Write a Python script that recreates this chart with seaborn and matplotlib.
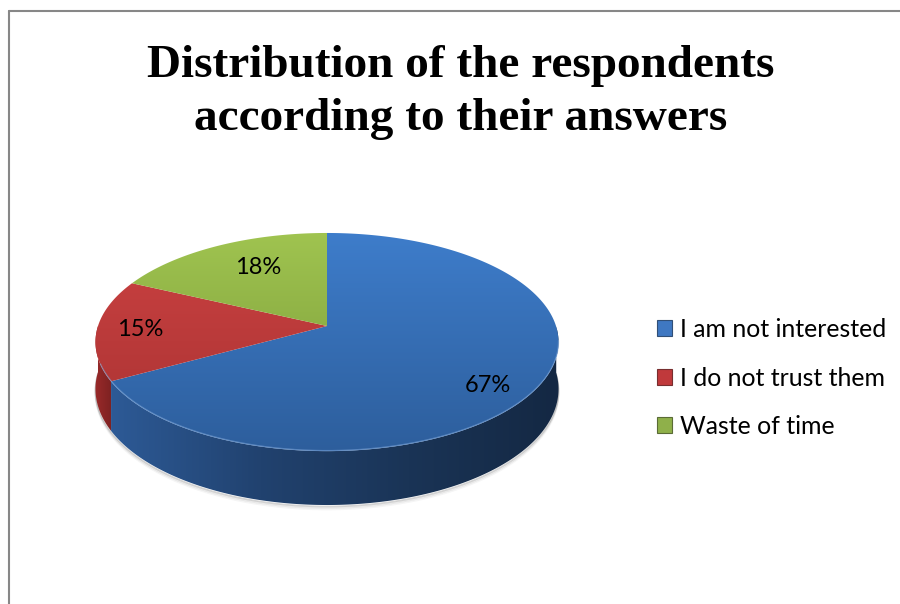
import numpy as np
import matplotlib
matplotlib.use("Agg")
import matplotlib.pyplot as plt
from matplotlib.patches import Polygon, Patch
from matplotlib.lines import Line2D
from matplotlib.colors import LinearSegmentedColormap
import seaborn as sns

# Survey answers
categories = ["I am not interested", "I do not trust them", "Waste of time"]
shares = [67, 15, 18]
pct_labels = ["67%", "15%", "18%"]

title = "Distribution of the respondents\naccording to their answers"

sns.set_theme(style="white")
plt.rcParams["font.family"] = ["Lato", "DejaVu Sans"]

# Per-slice styling: top surface (light -> dark), side wall (left -> right), legend swatch
top_grad = [("#3e7dcb", "#2d5e9c"), ("#cc4242", "#a83232"), ("#a0c450", "#779837")]
side_grad = [["#2d5a96", "#21426f", "#1a3456", "#142843"], ["#9a2a2a", "#7e2222"], ["#6f8c30", "#56702a"]]
swatch = sns.color_palette(["#3f78c2", "#c0393b", "#8fb04a"])

# Pie geometry in pixel space (perspective-tilted disc)
CX, CY, RX, RY, K, DEPTH = 327.0, 326.0, 229.0, 106.7, 0.147, 46.0


def project(theta_deg, r=1.0, h=0.0):
    t = np.radians(theta_deg)
    u, v = r * np.cos(t), r * np.sin(t)
    f = 1.0 / (1.0 + K * v)
    return CX + RX * u * f, CY - RY * v * f + DEPTH * h * f


fig = plt.figure(figsize=(9, 6.04), dpi=100)
fig.patch.set_facecolor("white")
ax = fig.add_axes([0, 0, 1, 1])
ax.set_xlim(0, 900)
ax.set_ylim(604, 0)
ax.axis("off")

total = float(sum(shares))
cum = np.concatenate([[0], np.cumsum(shares)]) / total
starts = 90 - 360 * cum[:-1]
ends = 90 - 360 * cum[1:]

# soft shadow under the front rim
th = np.linspace(180, 360, 300)
bx, by = project(th, 1.0, 1.0)
for off, a in [(1.5, 0.25), (3.0, 0.12), (4.5, 0.06)]:
    ax.plot(bx, by + off, color="#555555", alpha=a, lw=1.2, zorder=0.5)

# side walls (front half only)
for i in range(len(shares)):
    th = np.linspace(ends[i], starts[i], 500)
    th = th[np.sin(np.radians(th)) <= 1e-6]
    if len(th) < 2:
        continue
    tx, ty = project(th, 1.0, 0.0)
    bx, by = project(th[::-1], 1.0, 1.0)
    poly = Polygon(np.column_stack([np.r_[tx, bx], np.r_[ty, by]]), closed=True,
                   facecolor="none", edgecolor="none", zorder=1)
    ax.add_patch(poly)
    cmap = LinearSegmentedColormap.from_list(f"side{i}", side_grad[i])
    x0, x1 = min(tx.min(), bx.min()), max(tx.max(), bx.max())
    grad = np.linspace(0, 1, 256)[None, :]
    im = ax.imshow(grad, extent=(x0, x1, by.max() + 2, ty.min() - 2), origin="upper",
                   cmap=cmap, aspect="auto", zorder=1, interpolation="bilinear")
    im.set_clip_path(poly)

# top surfaces
ytop, ybot = project(90)[1], project(270)[1]
for i in range(len(shares)):
    th = np.linspace(ends[i], starts[i], 300)
    rx, ry = project(th)
    verts = np.column_stack([np.r_[CX, rx], np.r_[CY, ry]])
    poly = Polygon(verts, closed=True, facecolor="none", edgecolor="none", zorder=2)
    ax.add_patch(poly)
    cmap = LinearSegmentedColormap.from_list(f"top{i}", top_grad[i])
    grad = np.linspace(0, 1, 256)[:, None]
    im = ax.imshow(grad, extent=(CX - RX * 1.1, CX + RX * 1.1, ybot + 1, ytop - 1), origin="upper",
                   cmap=cmap, aspect="auto", zorder=2, interpolation="bilinear")
    im.set_clip_path(poly)

# light rim highlight along the front edge
th = np.linspace(200, 352, 300)
hx, hy = project(th)
ax.plot(hx, hy - 0.5, color="#7fa8dc", alpha=0.55, lw=0.9, zorder=3)

ax.set_xlim(0, 900)
ax.set_ylim(604, 0)

# percentage labels
label_pos = [(488, 385), (140, 329), (258, 268)]
for (lx, ly), txt in zip(label_pos, pct_labels):
    ax.text(lx, ly, txt, ha="center", va="center", fontsize=17, color="black", zorder=5)

# title
fig.text(461 / 900, 1 - 45 / 604, title, ha="center", va="top",
         fontsize=34, fontweight="bold", family=["Liberation Serif", "DejaVu Serif"],
         color="black", linespacing=1.35)

# legend
handles = [Patch(facecolor=c, edgecolor=sns.dark_palette(c, 3)[1], linewidth=0.8) for c in swatch]
fig.legend(handles, categories, loc="center left", bbox_to_anchor=(657 / 900, 1 - 378 / 604),
           frameon=False, fontsize=17.9, handlelength=0.6, handleheight=0.6,
           handletextpad=0.32, labelspacing=1.02, borderpad=0, borderaxespad=0,
           labelcolor="black")

# chart area border (top and left edges)
fig.add_artist(Line2D([8.5 / 900, 8.5 / 900], [0, 1 - 10.5 / 604], transform=fig.transFigure,
                      color="#878787", lw=1.5))
fig.add_artist(Line2D([8.5 / 900, 1], [1 - 10.5 / 604, 1 - 10.5 / 604], transform=fig.transFigure,
                      color="#878787", lw=1.5))

fig.savefig("out.png", dpi=100, facecolor="white")
